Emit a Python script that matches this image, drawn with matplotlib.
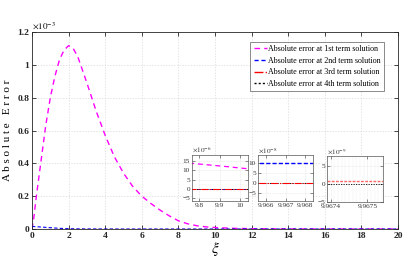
import matplotlib
matplotlib.use("Agg")
import matplotlib.pyplot as plt

plt.rcParams['font.family'] = ['Liberation Serif', 'DejaVu Serif']
plt.rcParams['mathtext.fontset'] = 'stix'

# ---------------- data (main plot, values in units of 1e-3) ----------------
xi = [0, 0.1, 0.25, 0.5, 0.75, 1.0, 1.25, 1.5, 1.75, 2.0, 2.25, 2.5, 2.75, 3.0,
      3.5, 4.0, 4.5, 5.0, 5.5, 6.0, 6.5, 7.0, 7.5, 8.0, 8.5, 9.0, 9.5, 10.0,
      11.0, 12.0, 13.0, 14.0, 16.0, 18.0, 20.0]
err1 = [0, 0.07, 0.21, 0.42, 0.63, 0.80, 0.93, 1.03, 1.09, 1.117, 1.10, 1.05, 0.97, 0.89,
        0.72, 0.57, 0.44, 0.34, 0.26, 0.20, 0.155, 0.115, 0.08, 0.05, 0.032, 0.02, 0.013, 0.009,
        0.004, 0.002, 0.001, 0.0005, 0.0, 0.0, 0.0]
err2 = [0.015, 0.015, 0.014, 0.012, 0.010, 0.008, 0.006, 0.004, 0.003, 0.002, 0.0015, 0.001, 0.0008, 0.0005,
        0.0003, 0.0002, 0.0001, 0, 0, 0, 0, 0, 0, 0, 0, 0, 0, 0,
        0, 0, 0, 0, 0, 0, 0]
err3 = [0.0] * len(xi)
err4 = [0.0] * len(xi)

labels = ['Absolute error at 1st term solution', 'Absolute error at 2nd term solution',
          'Absolute error at 3rd term solution', 'Absolute error at 4th term solution']

# inset 1 (units 1e-6)
in1_x = [9.75, 9.8, 9.85, 9.9, 9.95, 10.0, 10.05]
in1_e1 = [13.7, 13.2, 12.7, 12.2, 11.7, 11.1, 10.6]
in1_e2 = [0.1, 0.1, 0.1, 0.1, 0.1, 0.1, 0.1]
in1_e3 = [0, 0, 0, 0, 0, 0, 0]
in1_e4 = [0, 0, 0, 0, 0, 0, 0]
# inset 2 (units 1e-8)
in2_x = [9.965, 9.966, 9.967, 9.968, 9.969]
in2_e2 = [10.2, 10.2, 10.2, 10.2, 10.2]
in2_e3 = [0.09, 0.09, 0.09, 0.09, 0.09]
in2_e4 = [0, 0, 0, 0, 0]
# inset 3 (units 1e-9)
in3_x = [9.96738, 9.9674, 9.96745, 9.9675, 9.96755]
in3_e3 = [0.9, 0.9, 0.9, 0.9, 0.9]
in3_e4 = [0, 0, 0, 0, 0]

c1, c2, c3, c4 = '#ff00ff', '#0000ff', '#ff0000', '#000000'

fig = plt.figure(figsize=(4.14, 2.64), dpi=100)
ax = fig.add_axes([32/414, 35/264, 366/414, 197/264])

l1, = ax.plot(xi, err1, color=c1, ls=(0, (4, 3)), lw=1.0)
l2, = ax.plot(xi, err2, color=c2, ls=(0, (3, 2)), lw=0.8)
l3, = ax.plot(xi, err3, color=c3, ls='-.', lw=0.8)
l4, = ax.plot(xi, err4, color=c4, ls=(0, (1.5, 1.5)), lw=0.6)

ax.set_xlim(0, 20)
ax.set_ylim(0, 1.2)
ax.set_xticks(range(0, 21, 2))
ax.set_yticks([0, 0.2, 0.4, 0.6, 0.8, 1.0, 1.2])
ax.set_yticklabels(['0', '0.2', '0.4', '0.6', '0.8', '1', '1.2'])
ax.tick_params(direction='in', top=True, right=True, length=3, width=0.6,
               labelsize=6.8, pad=2, colors='#262626')
for t in ax.get_xticklabels() + ax.get_yticklabels():
    t.set_fontweight('bold')
ax.grid(True, ls=(0, (2, 2)), lw=0.5, color='#d9d9d9')
for s in ax.spines.values():
    s.set_linewidth(0.6)
    s.set_color('#262626')
ax.set_xlabel(r'$\xi$', fontsize=11, labelpad=0)
ax.set_ylabel('A b s o l u t e   E r r o r', fontsize=8, labelpad=4)
ax.text(0.0, 1.005, r'$\times10^{-3}$', transform=ax.transAxes, fontsize=6.5,
        ha='left', va='bottom')

leg = ax.legend([l1, l2, l3, l4], labels, loc='upper right',
                bbox_to_anchor=(384/414, (264-42)/264), bbox_transform=fig.transFigure,
                fontsize=5.8, frameon=True, fancybox=False, edgecolor='#555555',
                handlelength=1.6, handletextpad=0.2, borderpad=0.4, labelspacing=0.45,
                borderaxespad=0)
leg.get_frame().set_linewidth(0.6)
for ln in leg.get_lines():
    ln.set_linewidth(1.0)


def style_inset(a, mult):
    a.tick_params(direction='in', top=True, right=True, length=2, width=0.4,
                  labelsize=5.2, pad=1.5, colors='#333333')
    a.grid(True, ls=(0, (1.5, 1.5)), lw=0.4, color='#dddddd')
    for s in a.spines.values():
        s.set_linewidth(0.5)
        s.set_color('#555555')
    a.text(0.0, 1.01, mult, transform=a.transAxes, fontsize=5.2, ha='left',
           va='bottom', color='#333333')


# inset 1
a1 = fig.add_axes([192/414, (264-201)/264, 56/414, 46/264])
a1.plot(in1_x, in1_e1, color=c1, ls=(0, (4, 3)), lw=0.9)
a1.plot(in1_x, in1_e2, color=c2, ls=(0, (3, 2)), lw=0.6)
a1.plot(in1_x, in1_e4, color=c4, ls=(0, (1.5, 1.5)), lw=0.6)
a1.plot(in1_x, in1_e3, color=c3, ls='-.', lw=0.8)
a1.set_xlim(9.764, 10.04)
a1.set_ylim(-6.4, 18)
a1.set_xticks([9.8, 9.9, 10.0])
a1.set_xticklabels(['9.8', '9.9', '10'])
a1.set_yticks([-5, 0, 5, 10, 15])
style_inset(a1, r'$\times10^{-6}$')

# inset 2
a2 = fig.add_axes([258/414, (264-201)/264, 55/414, 46/264])
a2.plot(in2_x, in2_e2, color=c2, ls=(0, (3, 1.5)), lw=1.0)
a2.plot(in2_x, in2_e4, color=c4, ls=(0, (1.5, 1.5)), lw=0.6)
a2.plot(in2_x, in2_e3, color=c3, ls='-.', lw=0.8)
a2.set_xlim(9.96557, 9.96843)
a2.set_ylim(-8.8, 14.2)
a2.set_xticks([9.966, 9.967, 9.968])
a2.set_xticklabels(['9.966', '9.967', '9.968'])
a2.set_yticks([-5, 0, 5, 10])
style_inset(a2, r'$\times10^{-8}$')

# inset 3
a3 = fig.add_axes([327/414, (264-202)/264, 56/414, 46/264])
a3.plot(in3_x, in3_e4, color=c4, ls=(0, (1.5, 1.5)), lw=0.6)
a3.plot(in3_x, in3_e3, color=c3, ls=(0, (2, 1)), lw=1.0, alpha=0.6)
a3.set_xlim(9.967391, 9.967543)
a3.set_ylim(-5, 7.9)
a3.set_xticks([9.9674, 9.9675])
a3.set_xticklabels(['9.9674', '9.9675'])
a3.set_yticks([-5, 0, 5])
a3.set_xticks([9.96740 + 0.00001 * k for k in range(-1, 15)], minor=True)
a3.tick_params(which='minor', length=0)
a3.grid(True, which='minor', axis='x', ls='-', lw=0.3, color='#eeeeee')
style_inset(a3, r'$\times10^{-9}$')

fig.savefig('out.png', dpi=100)
